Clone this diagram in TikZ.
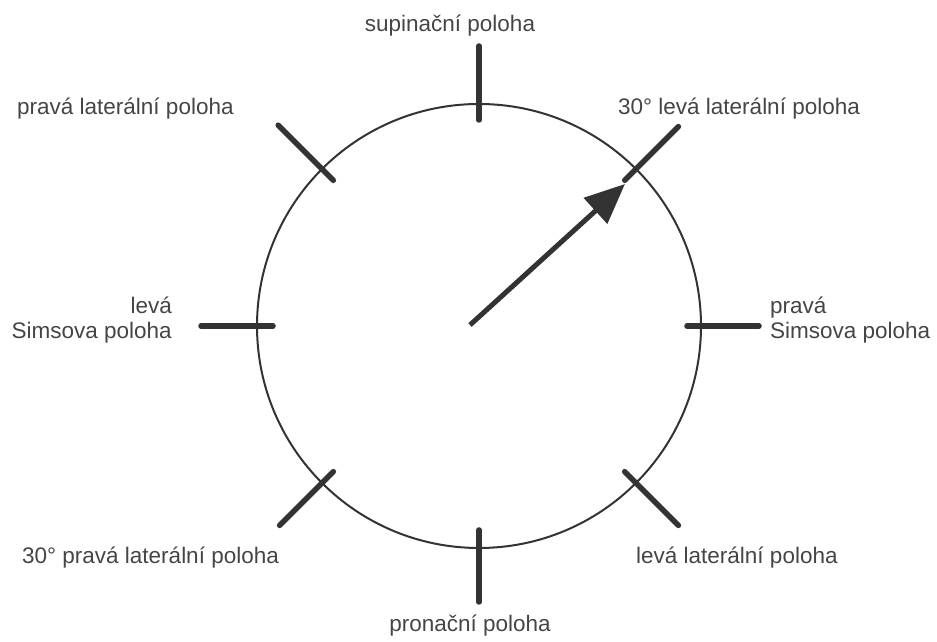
\documentclass[tikz,border=0pt]{standalone}
\usepackage{fontspec}
\setmainfont{Liberation Sans}
\usetikzlibrary{positioning, arrows.meta, calc}
\definecolor{inkdark}{HTML}{333333}
\definecolor{labelgray}{HTML}{454545}

\begin{document}
\begin{tikzpicture}[x=1pt, y=1pt,
  dial/.style={draw=inkdark, line width=2pt},
  tick/.style={draw=inkdark, line width=5.5pt, line cap=round},
  pointer/.style={-{Triangle[length=40pt, width=34pt]}, draw=inkdark, line width=5pt},
  lbl/.style={inner sep=0pt, font=\fontsize{22.5}{25.5}\selectfont, text=labelgray}
]
  \useasboundingbox (0,0) rectangle (937,642);
  \coordinate (c) at (479,316);
  \draw[dial] (c) circle[radius=222];

  \coordinate (n-in)  at ($(c)+(90:206)$);  \coordinate (n-out)  at ($(c)+(90:280)$);
  \coordinate (ne-in) at ($(c)+(45:206)$);  \coordinate (ne-out) at ($(c)+(45:282)$);
  \coordinate (e-in)  at ($(c)+(0:208)$);   \coordinate (e-out)  at ($(c)+(0:280)$);
  \coordinate (se-in) at ($(c)+(-45:206)$); \coordinate (se-out) at ($(c)+(-45:282)$);
  \coordinate (s-in)  at ($(c)+(-90:204)$); \coordinate (s-out)  at ($(c)+(-90:276)$);
  \coordinate (sw-in) at ($(c)+(-135:206)$);\coordinate (sw-out) at ($(c)+(-135:282)$);
  \coordinate (w-in)  at ($(c)+(180:206)$); \coordinate (w-out)  at ($(c)+(180:278)$);
  \coordinate (nw-in) at ($(c)+(135:206)$); \coordinate (nw-out) at ($(c)+(135:284)$);

  \draw[tick] (n-in)  -- (n-out);
  \draw[tick] (ne-in) -- (ne-out);
  \draw[tick] (e-in)  -- (e-out);
  \draw[tick] (se-in) -- (se-out);
  \draw[tick] (s-in)  -- (s-out);
  \draw[tick] (sw-in) -- (sw-out);
  \draw[tick] (w-in)  -- (w-out);
  \draw[tick] (nw-in) -- (nw-out);

  \coordinate (tail) at (470,317);
  \coordinate (tip)  at (625,458);
  \draw[pointer] (tail) -- (tip);

  \node[lbl, anchor=base] (supine) at (450,610) {supinační poloha};
  \node[lbl, anchor=base west] (rightlat) at (17,527) {pravá laterální poloha};
  \node[lbl, anchor=base west] (left30) at (618,527) {30° levá laterální poloha};
  \node[lbl, anchor=east, align=right] (leftsims) at (172,322) {levá\\Simsova poloha};
  \node[lbl, anchor=west, align=left] (rightsims) at (770,322) {pravá\\Simsova poloha};
  \node[lbl, anchor=base west] (right30) at (22,78) {30° pravá laterální poloha};
  \node[lbl, anchor=base west] (leftlat) at (636,78) {levá laterální poloha};
  \node[lbl, anchor=base] (prone) at (470,10) {pronační poloha};
\end{tikzpicture}
\end{document}
